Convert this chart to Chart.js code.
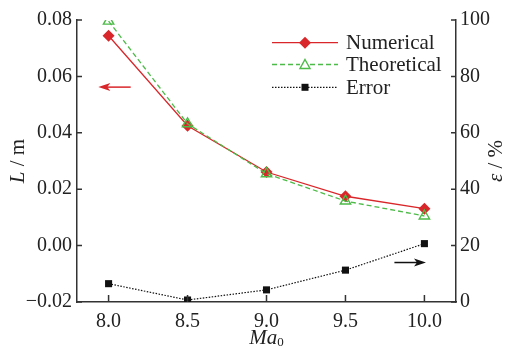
<!DOCTYPE html>
<html><head><meta charset="utf-8">
<script src="https://cdn.jsdelivr.net/npm/chart.js@4.4.0/dist/chart.umd.min.js"></script>
<style>html,body{margin:0;padding:0;background:#fff}#wrap{width:510px;height:351px}</style>
</head><body><div id="wrap"><canvas id="c"></canvas></div>
<script>
const machNumbers = [8.0, 8.5, 9.0, 9.5, 10.0];
const numerical = [0.0744, 0.0425, 0.0261, 0.0175, 0.0131];
const theoretical = [0.0796, 0.0432, 0.0255, 0.0158, 0.0105];
const errorPct = [6.5, 0.7, 4.3, 11.3, 20.7];
const xTicks = [8.0, 8.5, 9.0, 9.5, 10.0];
const seriesNames = ['Numerical', 'Theoretical', 'Error'];

const RED = '#d9262a', GREEN = '#4cbb47', BLACK = '#111';
const FONT = 'Liberation Serif';
const AX = '#333';

function pts(ys){ return machNumbers.map((x,i)=>({x, y: ys[i]})); }

const decor = {
  id: 'decor',
  afterDraw(chart) {
    const ctx = chart.ctx, a = chart.chartArea;
    const xs = chart.scales.x, yl = chart.scales.y, yr = chart.scales.y2;
    ctx.save();
    // inward ticks
    ctx.strokeStyle = AX; ctx.lineWidth = 1.5;
    ctx.beginPath();
    xTicks.forEach(v => { const px = xs.getPixelForValue(v); ctx.moveTo(px, a.bottom); ctx.lineTo(px, a.bottom - 7); });
    yl.ticks.forEach(t => { const py = yl.getPixelForValue(t.value); ctx.moveTo(a.left, py); ctx.lineTo(a.left + 5, py); });
    yr.ticks.forEach(t => { const py = yr.getPixelForValue(t.value); ctx.moveTo(a.right, py); ctx.lineTo(a.right - 5, py); });
    ctx.stroke();

    // arrows
    function arrow(x1, x2, y, col) {
      ctx.strokeStyle = col; ctx.fillStyle = col; ctx.lineWidth = 1.5;
      const dir = Math.sign(x2 - x1);
      ctx.beginPath(); ctx.moveTo(x1, y); ctx.lineTo(x2 - dir * 8, y); ctx.stroke();
      ctx.beginPath(); ctx.moveTo(x2, y); ctx.lineTo(x2 - dir * 12, y - 4); ctx.lineTo(x2 - dir * 9, y); ctx.lineTo(x2 - dir * 12, y + 4); ctx.closePath(); ctx.fill();
    }
    arrow(xs.getPixelForValue(8.14), xs.getPixelForValue(7.935), yl.getPixelForValue(0.0562), RED);
    arrow(xs.getPixelForValue(9.81), xs.getPixelForValue(10.01), yr.getPixelForValue(14), BLACK);

    // legend
    const lx1 = 272, lx2 = 338, mx = 305, tx = 346;
    const rows = [42.7, 64.5, 87.3];
    ctx.font = '21px "' + FONT + '"'; ctx.textBaseline = 'middle'; ctx.textAlign = 'left';
    // Numerical
    ctx.setLineDash([]); ctx.strokeStyle = RED; ctx.lineWidth = 1.3;
    ctx.beginPath(); ctx.moveTo(lx1, rows[0]); ctx.lineTo(lx2, rows[0]); ctx.stroke();
    ctx.fillStyle = RED; ctx.beginPath();
    ctx.moveTo(mx, rows[0]-6); ctx.lineTo(mx+6, rows[0]); ctx.lineTo(mx, rows[0]+6); ctx.lineTo(mx-6, rows[0]); ctx.closePath(); ctx.fill();
    // Theoretical
    ctx.strokeStyle = GREEN; ctx.setLineDash([5, 3]);
    ctx.beginPath(); ctx.moveTo(lx1, rows[1]); ctx.lineTo(mx-5, rows[1]); ctx.moveTo(mx+5, rows[1]); ctx.lineTo(lx2, rows[1]); ctx.stroke();
    ctx.setLineDash([]); ctx.lineWidth = 1.4;
    ctx.beginPath(); ctx.moveTo(mx, rows[1]-5); ctx.lineTo(mx+5, rows[1]+4); ctx.lineTo(mx-5, rows[1]+4); ctx.closePath(); ctx.stroke();
    // Error
    ctx.strokeStyle = BLACK; ctx.lineWidth = 1.2; ctx.setLineDash([1.5, 1.5]);
    ctx.beginPath(); ctx.moveTo(lx1, rows[2]); ctx.lineTo(lx2, rows[2]); ctx.stroke();
    ctx.setLineDash([]); ctx.fillStyle = BLACK; ctx.fillRect(mx-3.5, rows[2]-3.5, 7, 7);
    ctx.fillStyle = '#222';
    seriesNames.forEach((n, i) => ctx.fillText(n, tx, rows[i] + 1));

    // axis titles
    ctx.fillStyle = '#222';
    ctx.save(); ctx.translate(18, (a.top + a.bottom) / 2); ctx.rotate(-Math.PI / 2);
    ctx.textAlign = 'left';
    ctx.font = 'italic 21px "' + FONT + '"'; const w1 = ctx.measureText('L').width;
    ctx.font = '21px "' + FONT + '"'; const w2 = ctx.measureText(' / m').width;
    let sx = -(w1 + w2) / 2;
    ctx.font = 'italic 21px "' + FONT + '"'; ctx.fillText('L', sx, 0);
    ctx.font = '21px "' + FONT + '"'; ctx.fillText(' / m', sx + w1, 0);
    ctx.restore();

    ctx.save(); ctx.translate(496, (a.top + a.bottom) / 2); ctx.rotate(-Math.PI / 2);
    ctx.font = 'italic 21px "' + FONT + '"'; const e1 = ctx.measureText('ε').width;
    ctx.font = '21px "' + FONT + '"'; const e2 = ctx.measureText(' / %').width;
    sx = -(e1 + e2) / 2;
    ctx.font = 'italic 21px "' + FONT + '"'; ctx.fillText('ε', sx, 0);
    ctx.font = '21px "' + FONT + '"'; ctx.fillText(' / %', sx + e1, 0);
    ctx.restore();

    const cx = (a.left + a.right) / 2;
    ctx.font = 'italic 21px "' + FONT + '"'; const m1 = ctx.measureText('Ma').width;
    ctx.font = '13px "' + FONT + '"'; const m2 = ctx.measureText('0').width;
    sx = cx - (m1 + m2) / 2;
    ctx.font = 'italic 21px "' + FONT + '"'; ctx.fillText('Ma', sx, 338);
    ctx.font = '13px "' + FONT + '"'; ctx.fillText('0', sx + m1, 343);
    ctx.restore();
  }
};

new Chart(document.getElementById('c'), {
  type: 'line',
  data: {
    datasets: [
      { label: seriesNames[0], data: pts(numerical), borderColor: RED, backgroundColor: RED, borderWidth: 1.3,
        pointStyle: 'rectRot', pointRadius: 6, pointBackgroundColor: RED, pointBorderWidth: 0, yAxisID: 'y', order: 2 },
      { label: seriesNames[1], data: pts(theoretical), borderColor: GREEN, backgroundColor: 'rgba(0,0,0,0)', borderWidth: 1.3, borderDash: [5, 3],
        pointStyle: 'triangle', pointRadius: 6, pointBackgroundColor: 'rgba(255,255,255,0)', pointBorderColor: GREEN, pointBorderWidth: 1.4, yAxisID: 'y', order: 1 },
      { label: seriesNames[2], data: pts(errorPct), borderColor: BLACK, backgroundColor: BLACK, borderWidth: 1.2, borderDash: [1.5, 1.5],
        pointStyle: 'rect', pointRadius: 5, pointBackgroundColor: BLACK, pointBorderWidth: 0, yAxisID: 'y2', order: 3 }
    ]
  },
  options: {
    responsive: true, maintainAspectRatio: false, animation: false,
    layout: { padding: { top: 20, left: 0, right: 0, bottom: 0 } },
    plugins: { legend: { display: false }, tooltip: { enabled: false } },
    scales: {
      x: {
        type: 'linear', min: 7.8, max: 10.2,
        afterBuildTicks: s => { s.ticks = xTicks.map(v => ({ value: v })); },
        afterFit: s => { s.height = 49; },
        grid: { display: false, drawTicks: false },
        border: { display: true, color: AX, width: 1.5 },
        ticks: { padding: 8, color: '#222', font: { family: FONT, size: 20 }, callback: v => Number(v).toFixed(1) }
      },
      y: {
        position: 'left', min: -0.02, max: 0.08,
        afterFit: s => { s.width = 77; },
        grid: { display: false, drawTicks: false },
        border: { display: true, color: AX, width: 1.5 },
        ticks: { stepSize: 0.02, padding: 5, color: '#222', font: { family: FONT, size: 20 },
          callback: v => (Math.abs(v) < 1e-9 ? '0.00' : (v < 0 ? '\u2212' + Math.abs(v).toFixed(2) : v.toFixed(2))) }
      },
      y2: {
        position: 'right', min: 0, max: 100,
        afterFit: s => { s.width = 54; },
        grid: { display: false, drawTicks: false },
        border: { display: true, color: AX, width: 1.5 },
        ticks: { stepSize: 20, padding: 4, color: '#222', font: { family: FONT, size: 20 } }
      }
    }
  },
  plugins: [decor]
});
</script></body></html>
